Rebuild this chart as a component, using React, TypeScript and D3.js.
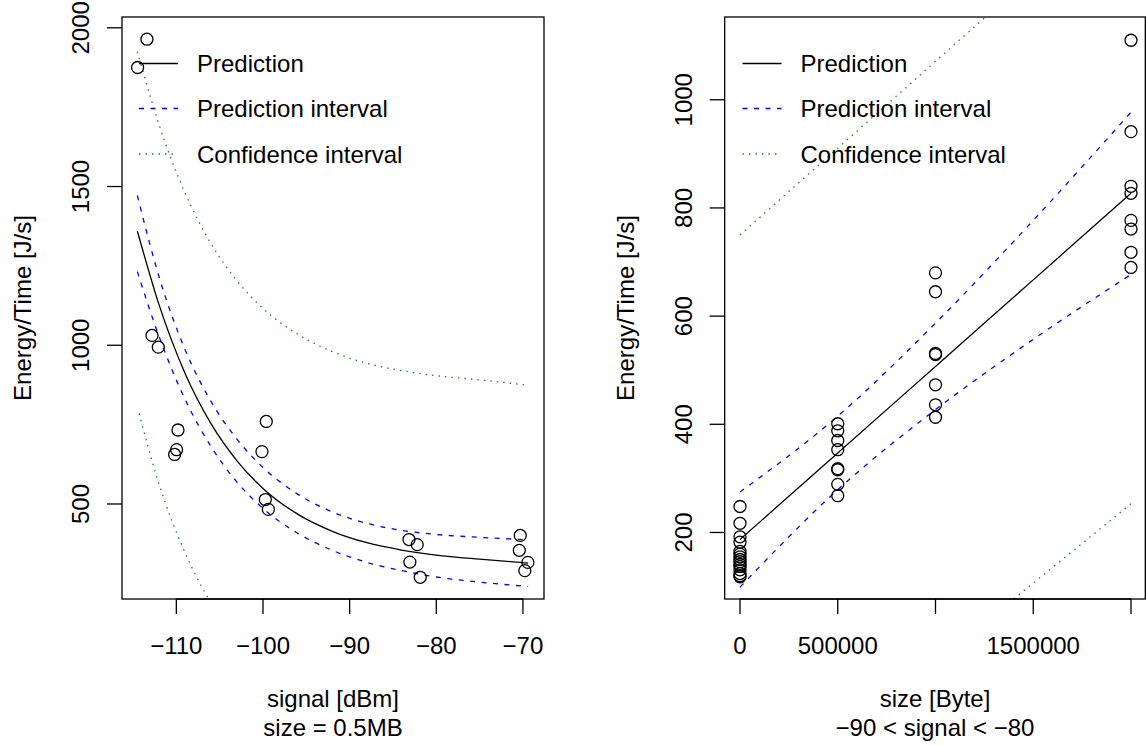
import React from "react";
import * as d3 from "d3";

// ---------- Left panel data (size = 0.5MB) ----------
const leftSignal = [-114.47, -113.39, -112.81, -112.08, -109.81, -109.97, -110.2, -99.62, -100.12, -99.73, -99.38, -83.15, -82.2, -83.05, -81.85, -70.31, -70.42, -69.43, -69.78];
const leftEnergy = [1875, 1964, 1031, 994, 733, 671, 656, 760, 665, 514, 483, 388, 372, 317, 269, 401, 354, 316, 290];

const leftCurveX = [-114.5, -112, -109, -106, -103, -100, -96, -92, -88, -84, -80, -75, -69.4];
const leftPred = [1360, 1128, 912, 753, 636, 549, 468, 414, 378, 355, 339, 326, 314];
const leftPIUpper = [1472, 1216, 987, 823, 704, 615, 531, 475, 439, 417, 404, 395, 387];
const leftPILower = [1232, 1028, 830, 681, 569, 486, 408, 354, 316, 290, 270, 254, 240];
const leftCIUpper = [1925, 1695, 1480, 1320, 1203, 1116, 1035, 980, 943, 920, 904, 891, 874];
const leftCILowerX = [-114.3, -112, -109, -106, -103];
const leftCILower = [785, 563, 347, 188, 71];

const leftXTicks = [-110, -100, -90, -80, -70];
const leftXTickLabels = ["\u2212110", "\u2212100", "\u221290", "\u221280", "\u221270"];
const leftYTicks = [500, 1000, 1500, 2000];

// ---------- Right panel data (-90 < signal < -80) ----------
const rightSize = [
  0, 0, 0, 0, 0, 0, 0, 0, 0, 0, 0, 0, 0, 0, 0,
  500000, 500000, 500000, 500000, 500000, 500000, 500000, 500000,
  1000000, 1000000, 1000000, 1000000, 1000000, 1000000, 1000000,
  2000000, 2000000, 2000000, 2000000, 2000000, 2000000, 2000000, 2000000,
];
const rightEnergy = [
  248, 217, 192, 182, 165, 160, 155, 150, 146, 141, 137, 131, 124, 120, 118,
  401, 388, 370, 353, 318, 316, 289, 268,
  680, 645, 531, 529, 473, 436, 413,
  1110, 941, 840, 827, 777, 761, 718, 690,
];

const rightCurveX = [0, 500000, 1000000, 1500000, 2000000];
const rightPred = [187, 347, 507, 667, 827];
const rightPIUpper = [275, 415, 587, 777, 977];
const rightPILower = [99, 279, 427, 557, 677];
const rightCIUpperX = [0, 2000000];
const rightCIUpper = [750, 1392];
const rightCILowerX = [1400000, 2000000];
const rightCILower = [77, 253];

const rightXTicks = [0, 500000, 1000000, 1500000, 2000000];
const rightXTickLabels = ["0", "500000", "", "1500000", ""];
const rightYTicks = [200, 400, 600, 800, 1000];

const legendLabels = ["Prediction", "Prediction interval", "Confidence interval"];

const FONT = "'Liberation Sans', Arial, Helvetica, sans-serif";
const FS = 24;
const BLUE = "#0000ff";
const GREEN = "#1a8a1a";
const DASH = "5,6.5";
const DOT = "1.5,5";

type PanelProps = {
  id: string;
  left: number;
  right: number;
  xDomain: [number, number];
  yDomain: [number, number];
  xTicks: number[];
  xTickLabels: string[];
  yTicks: number[];
  px: number[];
  py: number[];
  curves: { x: number[]; y: number[]; stroke: string; dash?: string }[];
  title1: string;
  title2: string;
  legendX: number;
};

const TOP = 17;
const BOTTOM = 599;

function Panel(p: PanelProps) {
  const x = d3.scaleLinear().domain(p.xDomain).range([p.left, p.right]);
  const y = d3.scaleLinear().domain(p.yDomain).range([BOTTOM, TOP]);
  const line = d3
    .line<[number, number]>()
    .x((d) => x(d[0]))
    .y((d) => y(d[1]))
    .curve(d3.curveMonotoneX);
  const cx = (p.left + p.right) / 2;
  const cy = (TOP + BOTTOM) / 2;
  const legendRows = [63.5, 108.5, 154];
  const legendStyles = [
    { stroke: "#000", dash: undefined },
    { stroke: BLUE, dash: DASH },
    { stroke: GREEN, dash: DOT },
  ];
  return (
    <g>
      <defs>
        <clipPath id={p.id}>
          <rect x={p.left} y={TOP} width={p.right - p.left} height={BOTTOM - TOP} />
        </clipPath>
      </defs>
      <g clipPath={`url(#${p.id})`}>
        {p.curves.map((c, i) => (
          <path
            key={i}
            d={line(c.x.map((v, j) => [v, c.y[j]] as [number, number])) || ""}
            fill="none"
            stroke={c.stroke}
            strokeWidth={1.3}
            strokeDasharray={c.dash}
          />
        ))}
      </g>
      {p.px.map((v, i) => (
        <circle key={i} cx={x(v)} cy={y(p.py[i])} r={6} fill="none" stroke="#000" strokeWidth={1.3} />
      ))}
      <rect x={p.left} y={TOP} width={p.right - p.left} height={BOTTOM - TOP} fill="none" stroke="#000" strokeWidth={1.3} />
      {/* x axis */}
      <line x1={x(p.xTicks[0])} x2={x(p.xTicks[p.xTicks.length - 1])} y1={BOTTOM} y2={BOTTOM} stroke="#000" strokeWidth={1.3} />
      {p.xTicks.map((t, i) => (
        <g key={i}>
          <line x1={x(t)} x2={x(t)} y1={BOTTOM} y2={BOTTOM + 15} stroke="#000" strokeWidth={1.3} />
          <text x={x(t)} y={654} textAnchor="middle" fontSize={FS} fontFamily={FONT}>
            {p.xTickLabels[i]}
          </text>
        </g>
      ))}
      {/* y axis */}
      {p.yTicks.map((t, i) => (
        <g key={i}>
          <line x1={p.left - 15} x2={p.left} y1={y(t)} y2={y(t)} stroke="#000" strokeWidth={1.3} />
          <text
            transform={`translate(${p.left - 33},${y(t)}) rotate(-90)`}
            textAnchor="middle"
            fontSize={FS}
            fontFamily={FONT}
          >
            {String(t)}
          </text>
        </g>
      ))}
      <text
        transform={`translate(${p.left - 91},${cy}) rotate(-90)`}
        textAnchor="middle"
        fontSize={FS}
        fontFamily={FONT}
      >
        Energy/Time [J/s]
      </text>
      <text x={cx} y={707} textAnchor="middle" fontSize={FS} fontFamily={FONT}>
        {p.title1}
      </text>
      <text x={cx} y={736} textAnchor="middle" fontSize={FS} fontFamily={FONT}>
        {p.title2}
      </text>
      {/* legend */}
      {legendLabels.map((lab, i) => (
        <g key={i}>
          <line
            x1={p.legendX}
            x2={p.legendX + 39}
            y1={legendRows[i]}
            y2={legendRows[i]}
            stroke={legendStyles[i].stroke}
            strokeWidth={1.3}
            strokeDasharray={legendStyles[i].dash}
          />
          <text x={p.legendX + 58} y={legendRows[i] + 8.5} fontSize={FS} fontFamily={FONT}>
            {lab}
          </text>
        </g>
      ))}
    </g>
  );
}

export default function App() {
  return (
    <svg width={1146} height={746} style={{ position: "absolute", left: 0, top: 0, background: "#fff" }}>
      <rect x={0} y={0} width={1146} height={746} fill="#fff" />
      <Panel
        id="clipL"
        left={122}
        right={544}
        xDomain={[-116.27, -67.57]}
        yDomain={[200.7, 2034]}
        xTicks={leftXTicks}
        xTickLabels={leftXTickLabels}
        yTicks={leftYTicks}
        px={leftSignal}
        py={leftEnergy}
        curves={[
          { x: leftCurveX, y: leftPred, stroke: "#000" },
          { x: leftCurveX, y: leftPIUpper, stroke: BLUE, dash: DASH },
          { x: leftCurveX, y: leftPILower, stroke: BLUE, dash: DASH },
          { x: leftCurveX, y: leftCIUpper, stroke: GREEN, dash: DOT },
          { x: leftCILowerX, y: leftCILower, stroke: GREEN, dash: DOT },
        ]}
        title1="signal [dBm]"
        title2="size = 0.5MB"
        legendX={139}
      />
      <Panel
        id="clipR"
        left={724.7}
        right={1145.3}
        xDomain={[-78260, 2073146]}
        yDomain={[77, 1153]}
        xTicks={rightXTicks}
        xTickLabels={rightXTickLabels}
        yTicks={rightYTicks}
        px={rightSize}
        py={rightEnergy}
        curves={[
          { x: rightCurveX, y: rightPred, stroke: "#000" },
          { x: rightCurveX, y: rightPIUpper, stroke: BLUE, dash: DASH },
          { x: rightCurveX, y: rightPILower, stroke: BLUE, dash: DASH },
          { x: rightCIUpperX, y: rightCIUpper, stroke: GREEN, dash: DOT },
          { x: rightCILowerX, y: rightCILower, stroke: GREEN, dash: DOT },
        ]}
        title1="size [Byte]"
        title2={"\u221290 < signal < \u221280"}
        legendX={742.5}
      />
    </svg>
  );
}
